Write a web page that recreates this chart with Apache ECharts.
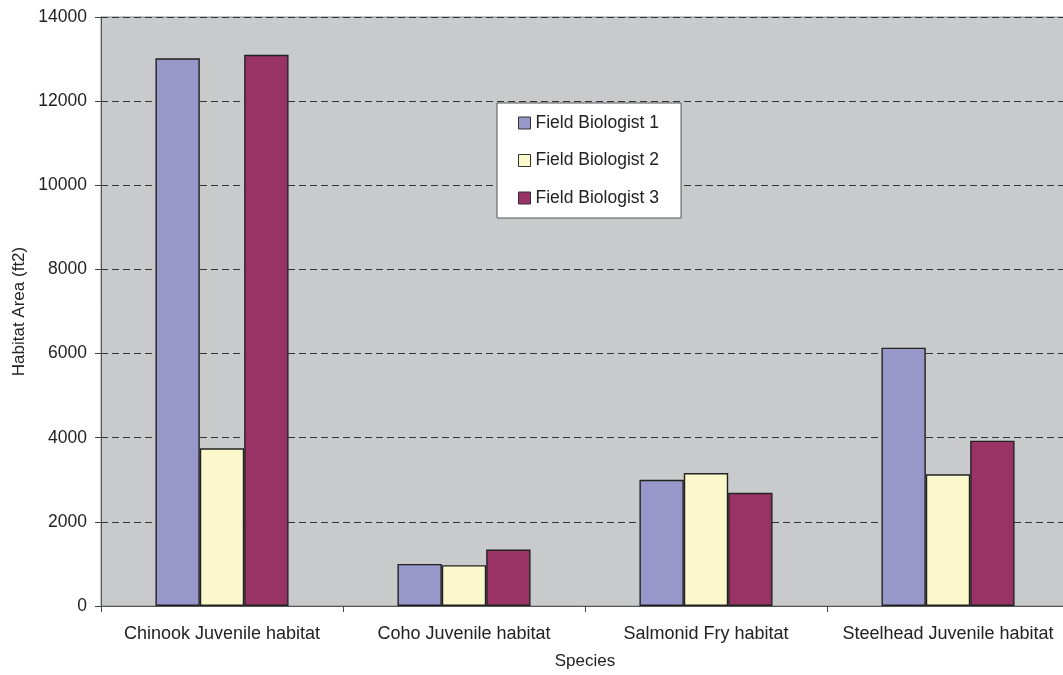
<!DOCTYPE html>
<html><head><meta charset="utf-8">
<script src="https://cdn.jsdelivr.net/npm/echarts@6/dist/echarts.min.js"></script>
<style>html,body{margin:0;padding:0;background:#fff}#c{width:1063px;height:675px}</style>
</head><body><div id="c"></div>
<script>
const categories = ["Chinook Juvenile habitat", "Coho Juvenile habitat", "Salmonid Fry habitat", "Steelhead Juvenile habitat"];
const seriesNames = ["Field Biologist 1", "Field Biologist 2", "Field Biologist 3"];
const fb1 = [13020, 1000, 3000, 6140];
const fb2 = [3750, 970, 3160, 3130];
const fb3 = [13100, 1340, 2690, 3930];
const colors = ["#9797ca", "#fbf8cc", "#993366"];

const font = "Liberation Sans, Arial, sans-serif";
const chart = echarts.init(document.getElementById('c'));
const mk = (name, data, color) => ({
  name, type: 'bar', data, barGap: '0%', barCategoryGap: '45%',
  itemStyle: { color, borderColor: '#222', borderWidth: 1.4 }
});
chart.setOption({
  animation: false,
  textStyle: { fontFamily: font },
  grid: { left: 101, top: 17, width: 968, height: 589, outerBoundsMode: 'none', containLabel: false,
          show: true, backgroundColor: '#c9cacc', borderColor: '#8a8a8a', borderWidth: 1 },
  legend: {
    orient: 'vertical', left: 497, top: 103,
    backgroundColor: '#fff', borderColor: '#555', borderWidth: 1,
    padding: [11, 22, 11, 21], itemGap: 19.5, itemWidth: 12, itemHeight: 12,
    textStyle: { fontSize: 17.5, color: '#222', fontFamily: font },
    icon: 'rect',
    data: seriesNames.map((n) => ({ name: n, itemStyle: { borderColor: '#333', borderWidth: 1 } }))
  },
  xAxis: {
    type: 'category', data: categories,
    name: 'Species', nameLocation: 'middle', nameGap: 47,
    nameTextStyle: { fontSize: 17, color: '#222' },
    axisLine: { lineStyle: { color: '#555', width: 1 } },
    axisTick: { show: true, interval: 0, length: 6, lineStyle: { color: '#444' } },
    axisLabel: { interval: 0, hideOverlap: false, fontSize: 18, color: '#222', margin: 19 }
  },
  yAxis: {
    type: 'value', min: 0, max: 14000, interval: 2000,
    name: 'Habitat Area (ft2)', nameLocation: 'middle', nameGap: 73,
    nameTextStyle: { fontSize: 17, color: '#222' },
    axisLine: { show: true, lineStyle: { color: '#555', width: 1 } },
    axisTick: { show: true, length: 6, lineStyle: { color: '#444' } },
    axisLabel: { fontSize: 17.5, color: '#222', margin: 14, formatter: (v) => String(v) },
    splitLine: { show: true, lineStyle: { color: '#333', type: [7, 4], width: 1 } }
  },
  series: [mk(seriesNames[0], fb1, colors[0]), mk(seriesNames[1], fb2, colors[1]), mk(seriesNames[2], fb3, colors[2])]
});
</script></body></html>
